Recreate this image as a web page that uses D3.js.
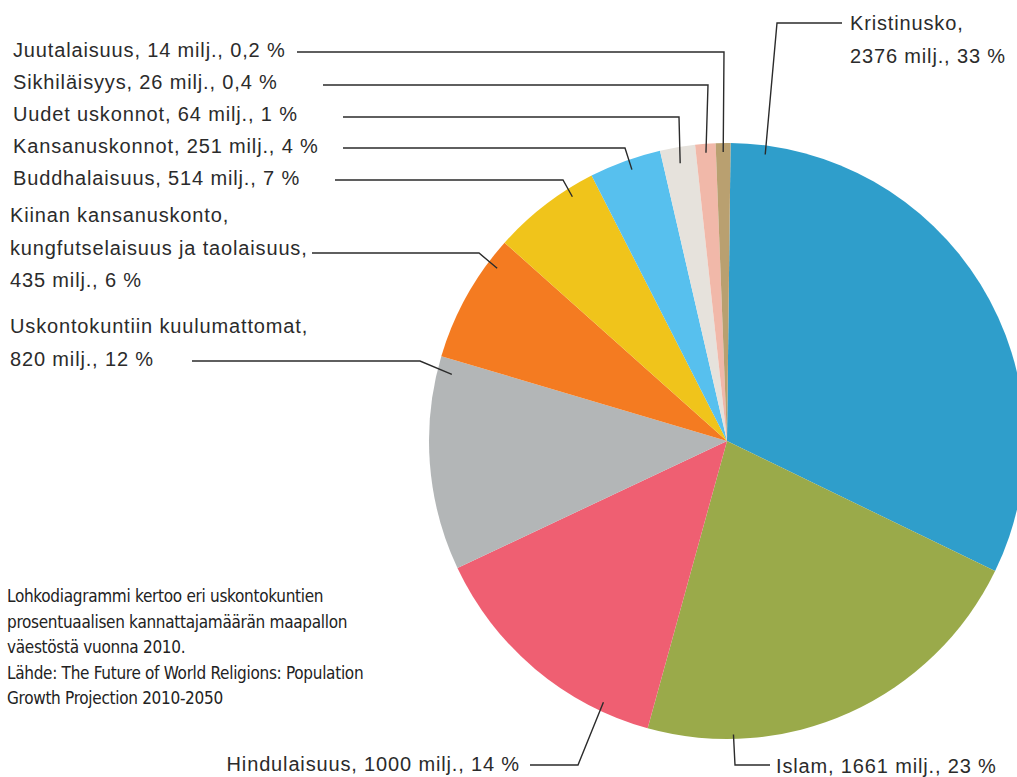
<!DOCTYPE html>
<html>
<head>
<meta charset="utf-8">
<script src="https://cdn.jsdelivr.net/npm/d3@7"></script>
<style>
  html, body { margin: 0; padding: 0; background: #fff; }
  svg { display: block; }
  .lbl { font-family: "Liberation Sans", Arial, sans-serif; font-size: 20px; letter-spacing: 0.85px; fill: #2b2b2b; }
  .note { font-family: "Liberation Sans Narrow", "DejaVu Sans Condensed", sans-serif; font-size: 17px; letter-spacing: -0.3px; fill: #222; }
  .leader { fill: none; stroke: #2b2b2b; stroke-width: 1.4; }
</style>
</head>
<body>
<div id="chart"></div>
<script>
// religions, clockwise from 12 o'clock
const religions = ["Kristinusko", "Islam", "Hindulaisuus", "Uskontokuntiin kuulumattomat",
  "Kiinan kansanuskonto", "Buddhalaisuus", "Kansanuskonnot", "Uudet uskonnot", "Sikhiläisyys", "Juutalaisuus"];
// adherents in millions and percent, as printed in the labels
const millions = [2376, 1661, 1000, 820, 435, 514, 251, 64, 26, 14];
const percents = ["33", "23", "14", "12", "6", "7", "4", "1", "0,4", "0,2"];
// share of the circle each slice takes in the picture (%)
const drawnShare = [32.0, 22.1, 13.7, 11.6, 7.0, 5.9, 3.9, 1.9, 1.1, 0.8];
const colors = ["#2f9ecb", "#9aaa4a", "#ef5f72", "#b3b6b7", "#f47b21", "#f0c41b",
  "#57c0ee", "#e6e2dc", "#f1b8a9", "#b9a070"];

const labelLines = [
  ["Kristinusko,", "2376 milj., 33 %"],
  ["Islam, 1661 milj., 23 %"],
  ["Hindulaisuus, 1000 milj., 14 %"],
  ["Uskontokuntiin kuulumattomat,", "820 milj., 12 %"],
  ["Kiinan kansanuskonto,", "kungfutselaisuus ja taolaisuus,", "435 milj., 6 %"],
  ["Buddhalaisuus, 514 milj., 7 %"],
  ["Kansanuskonnot, 251 milj., 4 %"],
  ["Uudet uskonnot, 64 milj., 1 %"],
  ["Sikhiläisyys, 26 milj., 0,4 %"],
  ["Juutalaisuus, 14 milj., 0,2 %"]
];

const noteLines = [
  "Lohkodiagrammi kertoo eri uskontokuntien",
  "prosentuaalisen kannattajamäärän maapallon",
  "väestöstä vuonna 2010.",
  "Lähde: The Future of World Religions: Population",
  "Growth Projection 2010-2050"
];

const width = 1017, height = 777;
const cx = 727, cy = 441, radius = 298;

// label layout: text position, leader start / elbow, where in the slice the leader ends
const layout = [
  { x: 850, y: 30, anchor: "start", start: [842, 23], elbow: [777, 23], frac: 0.06, rr: 0.97 },
  { x: 776, y: 773, anchor: "start", start: [770, 765], elbow: [735, 765], frac: 0.79, rr: 0.985 },
  { x: 520, y: 771, anchor: "end", start: [530, 765], elbow: [578, 765], frac: 0.2, rr: 0.97 },
  { x: 10, y: 333, anchor: "start", start: [192, 361], elbow: [420, 361], frac: 0.93, rr: 0.95 },
  { x: 10, y: 222, anchor: "start", start: [312, 253], elbow: [479, 253], frac: 0.81, rr: 0.965 },
  { x: 13, y: 185, anchor: "start", start: [335, 180], elbow: [563, 180], frac: 0.75, rr: 0.97 },
  { x: 13, y: 153, anchor: "start", start: [343, 148], elbow: [625, 148], frac: 0.55, rr: 0.965 },
  { x: 13, y: 121, anchor: "start", start: [343, 117], elbow: [679, 117], frac: 0.5, rr: 0.945 },
  { x: 13, y: 89, anchor: "start", start: [323, 85], elbow: [708, 85], frac: 0.5, rr: 0.97 },
  { x: 13, y: 57, anchor: "start", start: [297, 52], elbow: [724, 52], frac: 0.5, rr: 0.97 }
];
const lineGap = 32.5;

const svg = d3.select("#chart").append("svg")
  .attr("width", width)
  .attr("height", height);

const data = religions.map((name, i) => ({
  name, value: drawnShare[i], millions: millions[i], pct: percents[i], color: colors[i], i
}));

const pie = d3.pie().value(d => d.value).sort(null)
  .startAngle(0.012).endAngle(0.012 + 2 * Math.PI);
const arc = d3.arc().innerRadius(0).outerRadius(radius);
const arcs = pie(data);

const g = svg.append("g").attr("transform", `translate(${cx},${cy})`);
g.selectAll("path.slice")
  .data(arcs)
  .join("path")
  .attr("class", "slice")
  .attr("d", arc)
  .attr("fill", d => d.data.color);

// leader lines
const line = d3.line();
svg.selectAll("path.leader")
  .data(arcs)
  .join("path")
  .attr("class", "leader")
  .attr("d", (d, i) => {
    const L = layout[i];
    const a = d.startAngle + L.frac * (d.endAngle - d.startAngle);
    const r = radius * L.rr;
    const end = [cx + r * Math.sin(a), cy - r * Math.cos(a)];
    return line([L.start, L.elbow, end]);
  });

// labels
labelLines.forEach((lines, i) => {
  const L = layout[i];
  const t = svg.append("text")
    .attr("class", "lbl")
    .attr("text-anchor", L.anchor);
  lines.forEach((s, k) => {
    t.append("tspan").attr("x", L.x).attr("y", L.y + k * lineGap).text(s);
  });
});

// note
const note = svg.append("text").attr("class", "note");
noteLines.forEach((s, k) => {
  note.append("tspan").attr("x", 7).attr("y", 602 + k * 25.5).text(s);
});
</script>
</body>
</html>
